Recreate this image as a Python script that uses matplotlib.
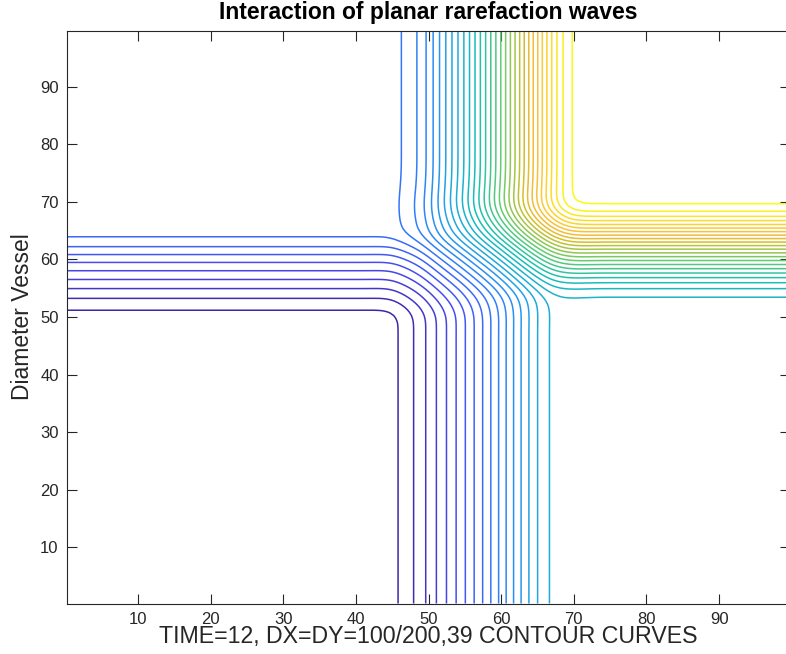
import numpy as np
import matplotlib.pyplot as plt
from matplotlib.colors import LinearSegmentedColormap

# where the contour curves cross the outer parts of the domain
left_y = [51.4, 53.3, 55.0, 56.5, 58.1, 59.5, 60.9, 62.1, 63.6]            # levels 1..9
bottom_x = [46.0, 48.1, 49.7, 51.1, 52.5, 53.85, 55.1, 56.3, 57.5, 58.6,
            59.7, 60.7, 61.7, 62.7, 63.8, 64.8, 66.3]                      # levels 1..17
top_x = [46.4, 48.9, 49.9, 50.65, 51.5, 52.4, 53.25, 54.1, 54.9, 55.7,
         56.4, 57.15, 57.9, 58.6, 59.3, 59.95, 60.65, 61.3, 61.95, 62.55,
         63.15, 63.8, 64.45, 65.05, 65.65, 66.25, 66.9, 67.5, 68.25, 69.25]  # levels 10..39
right_y = [53.85, 55.15, 56.1, 56.9, 57.7, 58.45, 59.15, 59.85, 60.5, 61.15,
           61.85, 62.45, 63.0, 63.6, 64.2, 64.85, 65.4, 66.0, 66.65, 67.3,
           68.1, 69.15]                                                     # levels 18..39

# constant states of the four quadrants
state_bl, state_tl, state_br, state_tr = 0.5, 9.5, 17.5, 39.5

# MATLAB parula, a few anchor colours
parula_pos = [0, 8, 16, 24, 32, 40, 48, 52, 56, 63]
parula_rgb = [(0.2422, 0.1504, 0.6603), (0.2813, 0.3006, 0.9414), (0.1963, 0.4847, 0.9892),
              (0.1248, 0.6459, 0.8883), (0.0964, 0.7500, 0.7120), (0.3909, 0.8029, 0.4354),
              (0.8203, 0.7498, 0.1535), (0.9728, 0.7298, 0.2394), (0.9892, 0.8136, 0.1885),
              (0.9769, 0.9839, 0.0805)]
parula = LinearSegmentedColormap.from_list(
    "parula", [(p / 63, c) for p, c in zip(parula_pos, parula_rgb)])


def profile(s, pos, lev_lo, lev_hi):
    """1D wave profile through the given crossing positions"""
    levels = np.arange(lev_lo + 0.5, lev_hi, 1.0)
    xp = ([pos[0] - 0.5 * (pos[1] - pos[0])] + list(pos)
          + [pos[-1] + 0.5 * (pos[-1] - pos[-2])])
    fp = [lev_lo] + list(levels) + [lev_hi]
    return np.interp(s, xp, fp)


def smoothstep(s, a, b):
    t = np.clip((s - a) / (b - a), 0, 1)
    return t * t * (3 - 2 * t)


def blur(z, sigma):
    # separable gaussian, edges padded
    r = int(3 * sigma)
    k = np.exp(-0.5 * (np.arange(-r, r + 1) / sigma) ** 2)
    k /= k.sum()
    zp = np.pad(z, r, mode='edge')
    zp = np.apply_along_axis(lambda v: np.convolve(v, k, mode='same'), 0, zp)
    zp = np.apply_along_axis(lambda v: np.convolve(v, k, mode='same'), 1, zp)
    return zp[r:-r, r:-r]


x = np.linspace(0.25, 99.75, 200)
y = np.linspace(0.25, 99.75, 200)
X, Y = np.meshgrid(x, y)

uB = profile(X, bottom_x, state_bl, state_br)
uT = profile(X, top_x, state_tl, state_tr)
uL = profile(Y, left_y, state_bl, state_tl)
uR = profile(Y, right_y, state_br, state_tr)

wx = smoothstep(X, 42, 74)
wy = smoothstep(Y, 48, 77)

U = ((1 - wy) * uB + wy * uT + (1 - wx) * uL + wx * uR
     - ((1 - wx) * (1 - wy) * state_bl + wx * (1 - wy) * state_br
        + (1 - wx) * wy * state_tl + wx * wy * state_tr))
U = blur(U, 2.5)

plt.rcParams['font.family'] = ['Liberation Sans', 'DejaVu Sans']
fig = plt.figure(figsize=(7.86, 6.54), dpi=100)
ax = fig.add_axes([67 / 786, 50.5 / 654, 723 / 786, 573 / 654])

ax.contour(X, Y, U, levels=np.arange(1, 40), cmap=parula, linewidths=1.1)

ax.set_xlim(0.25, 99.75)
ax.set_ylim(0.25, 99.75)
ax.set_xticks(range(10, 100, 10))
ax.set_yticks(range(10, 100, 10))
ax.tick_params(direction='in', top=True, right=True, length=7, width=0.8,
               labelsize=12, colors='#262626', pad=6)
for sp in ax.spines.values():
    sp.set_color('#262626')
    sp.set_linewidth(0.8)

ax.set_title("Interaction of planar rarefaction waves", fontsize=16.5, fontweight='bold', pad=8)
ax.set_xlabel("TIME=12, DX=DY=100/200,39 CONTOUR CURVES", fontsize=16.7, color='#262626', labelpad=-1)
ax.set_ylabel("Diameter Vessel", fontsize=16.5, color='#262626', labelpad=4)

fig.savefig("out.png", dpi=100)
